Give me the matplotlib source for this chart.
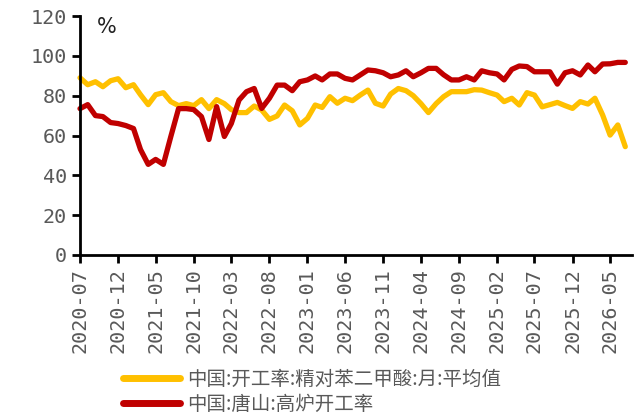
import matplotlib
matplotlib.use("Agg")
import matplotlib.pyplot as plt
import matplotlib.dates as mdates
import pandas as pd

months = pd.date_range("2020-07-01", periods=73, freq="MS")

pta_rate = [89, 85.5, 87, 84.5, 87.5, 88.5, 84, 85.5, 80.5, 75.5,
            80.5, 81.5, 77, 75, 76, 75, 78, 73.5, 78, 76,
            73, 71.5, 71.5, 74.8, 72.8, 68.1, 69.8, 75.3, 72.4, 65.3,
            68.6, 75.3, 74.1, 79.5, 76.2, 78.7, 77.5, 80.3, 82.8, 76.2,
            74.8, 80.8, 83.6, 82.5, 80, 76, 71.5, 76, 79.5, 82,
            82, 82, 83, 82.8, 81.5, 80.3, 77, 78.7, 75.3, 81.5,
            80.3, 74.4, 75.5, 76.6, 75, 73.6, 77, 75.8, 78.7, 70.3,
            60.2, 65.3, 54.4]

tangshan_bf = [73.5, 75.5, 70, 69.5, 66.5, 66, 65, 63.5, 53, 45.5,
               48, 45.5, 59.5, 73.5, 73.5, 73, 69.5, 58, 74.5, 59.5,
               66, 77.8, 82, 83.6, 73.6, 78.7, 85.3, 85.3, 82.5, 87,
               87.9, 89.9, 87.9, 90.9, 90.9, 88.7, 87.9, 90.4, 92.9, 92.5,
               91.5, 89.5, 90.4, 92.5, 89.5, 91.5, 93.7, 93.7, 90.5, 87.9,
               87.9, 89.5, 87.9, 92.5, 91.5, 90.9, 87.9, 93.2, 94.9, 94.6,
               92, 92, 92, 85.8, 91.5, 92.5, 90.4, 95.4, 92, 95.9,
               96, 96.7, 96.7]

series_labels = ["中国:开工率:精对苯二甲酸:月:平均值", "中国:唐山:高炉开工率"]
y_ticks = [0, 20, 40, 60, 80, 100, 120]
x_tick_labels = ["2020-07", "2020-12", "2021-05", "2021-10", "2022-03", "2022-08",
                 "2023-01", "2023-06", "2023-11", "2024-04", "2024-09", "2025-02",
                 "2025-07", "2025-12", "2026-05"]

plt.rcParams["font.family"] = ["Noto Sans CJK SC", "DejaVu Sans"]

fig = plt.figure(figsize=(6.37, 4.17), dpi=100)
ax = fig.add_axes([80 / 637, 1 - 255 / 417, 552 / 637, 239 / 417])

ax.plot(months, pta_rate, color="#FFC000", lw=3.8, solid_capstyle="round",
        solid_joinstyle="round", label=series_labels[0], clip_on=False)
ax.plot(months, tangshan_bf, color="#C00000", lw=3.8, solid_capstyle="round",
        solid_joinstyle="round", label=series_labels[1], clip_on=False)

ax.set_ylim(0, 120)
ax.set_yticks(y_ticks)
ax.set_xlim(pd.Timestamp("2020-07-01"), pd.Timestamp("2026-07-28"))
tick_dates = [pd.Timestamp(s + "-01") for s in x_tick_labels]
ax.set_xticks(tick_dates)
ax.set_xticklabels(x_tick_labels, rotation=90)

for s in ["top", "right"]:
    ax.spines[s].set_visible(False)
for s in ["left", "bottom"]:
    ax.spines[s].set_linewidth(2)
    ax.spines[s].set_color("black")

ax.tick_params(axis="both", direction="out", length=6, width=2, color="black",
               labelcolor="#595959", labelsize=14.5)
for lab in ax.get_xticklabels() + ax.get_yticklabels():
    lab.set_family("DejaVu Sans Mono")

ax.text(0.03, 0.955, "%", transform=ax.transAxes, fontsize=15, color="#222222",
        family="DejaVu Sans", va="center", ha="left")

leg = fig.legend(loc="upper left", bbox_to_anchor=(123 / 637, 1 - 369 / 417),
                 frameon=False, fontsize=14, handlelength=2.95, handletextpad=0.35,
                 labelspacing=0.2, borderpad=0, borderaxespad=0)
for t in leg.get_texts():
    t.set_color("#595959")
for h in leg.get_lines():
    h.set_linewidth(5)
    h.set_solid_capstyle("round")

fig.savefig("out.png", dpi=100)
